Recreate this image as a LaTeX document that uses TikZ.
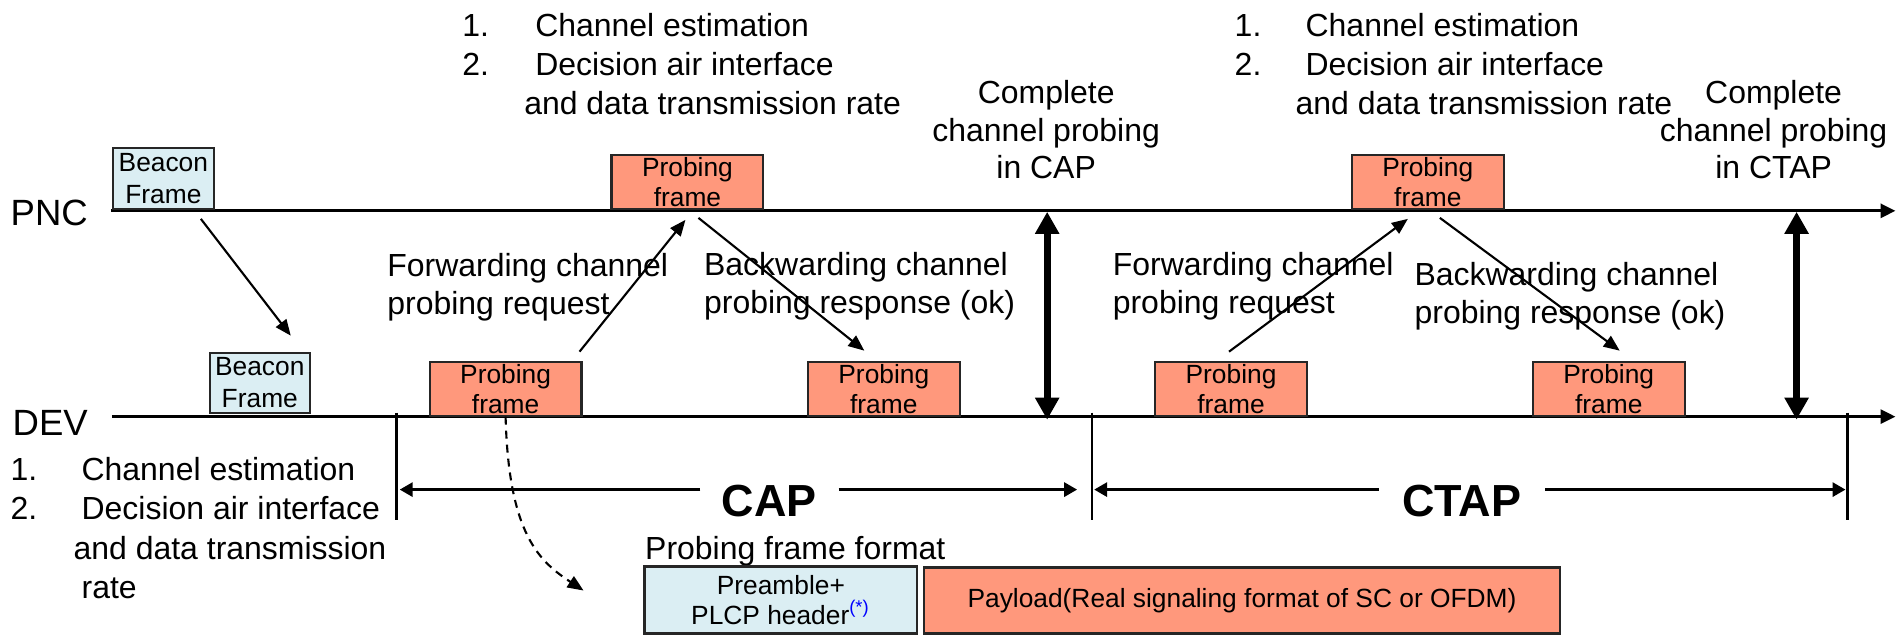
\documentclass[tikz,border=0pt]{standalone}
\usepackage{fontspec}
\setmainfont{Liberation Sans}
\usetikzlibrary{arrows.meta}
\definecolor{probefill}{RGB}{255,152,124}
\definecolor{beaconfill}{RGB}{219,238,243}
\tikzset{
  txt/.style={inner sep=0, align=left, font=\fontsize{9.1pt}{11pt}\selectfont},
  frm/.style={draw=black!85, line width=0.6pt, inner sep=0, align=center, font=\fontsize{7.5pt}{8.5pt}\selectfont},
  probe/.style={frm, fill=probefill, minimum width=1.52cm, minimum height=0.54cm},
  beacon/.style={frm, fill=beaconfill, minimum width=1.01cm, minimum height=0.61cm, font=\fontsize{7.5pt}{9.1pt}\selectfont},
  msg/.style={line width=0.6pt, -{Triangle[length=0.16cm,width=0.13cm]}},
  timeline/.style={line width=0.85pt, -{Triangle[length=0.15cm,width=0.14cm]}},
  boundary/.style={line width=0.7pt},
  spanline/.style={line width=0.85pt, -{Triangle[length=0.13cm,width=0.14cm]}},
  doneline/.style={line width=2pt, {Triangle[length=0.22cm,width=0.23cm]}-{Triangle[length=0.22cm,width=0.23cm]}},
  periodlabel/.style={inner xsep=0.21cm, inner ysep=0, font=\fontsize{12.8pt}{14pt}\selectfont\bfseries}
}
\begin{document}
\begin{tikzpicture}
\newcommand\pncy{-2.11}
\newcommand\devy{-4.17}
\fill [white] (0,0) rectangle (18.97,-6.36);

\node (pnc) at (0.10,-2.13) [anchor=west, inner sep=0, font=\fontsize{10.4pt}{12pt}\selectfont] {PNC};
\node (dev) at (0.12,-4.23) [anchor=west, inner sep=0, font=\fontsize{10.4pt}{12pt}\selectfont] {DEV};
\coordinate (pncstart) at (1.11,\pncy);
\coordinate (pncend) at (18.97,\pncy);
\coordinate (devstart) at (1.12,\devy);
\coordinate (devend) at (18.97,\devy);
\draw [timeline] (pncstart) -- (pncend);
\draw [timeline] (devstart) -- (devend);

\foreach \x in {3.97,10.93,18.49} {
    \draw [boundary] (\x,-4.13) -- (\x,-5.20);
}

\node (beaconP) at (1.635,-1.785) [beacon] {Beacon\\Frame};
\node (beaconD) at (2.60,-3.83) [beacon, minimum width=1.00cm, minimum height=0.60cm] {Beacon\\Frame};
\node (probePA) at (6.88,-1.82) [probe] {Probing\\frame};
\node (probePB) at (14.29,-1.82) [probe] {Probing\\frame};
\foreach \x/\n in {5.06/DA,8.845/DB,12.32/DC,16.10/DD} {
    \node (probe\n) at (\x,-3.89) [probe] {Probing\\frame};
}

\node (capsteps) at (4.62,-0.13) [txt, anchor=north west] {\makebox[0.73cm][l]{1.}Channel estimation\\\makebox[0.73cm][l]{2.}Decision air interface\\\hspace*{0.62cm}and data transmission rate};
\node (ctapsteps) at (12.35,-0.13) [txt, anchor=north west] {\makebox[0.71cm][l]{1.}Channel estimation\\\makebox[0.71cm][l]{2.}Decision air interface\\\hspace*{0.61cm}and data transmission rate};
\node (devsteps) at (0.10,-4.57) [txt, anchor=north west, font=\fontsize{9.1pt}{11.2pt}\selectfont] {\makebox[0.71cm][l]{1.}Channel estimation\\\makebox[0.71cm][l]{2.}Decision air interface\\\hspace*{0.63cm}and data transmission\\\hspace*{0.71cm}rate};
\node (capdone) at (10.47,-0.80) [txt, anchor=north, align=center, font=\fontsize{9.1pt}{10.7pt}\selectfont] {Complete\\channel probing\\in CAP};
\node (ctapdone) at (17.75,-0.80) [txt, anchor=north, align=center, font=\fontsize{9.1pt}{10.7pt}\selectfont] {Complete\\channel probing\\in CTAP};
\node (fwdtextA) at (3.87,-2.53) [txt, anchor=north west, font=\fontsize{9.1pt}{10.8pt}\selectfont] {Forwarding channel\\probing request};
\node (bwdtextA) at (7.04,-2.52) [txt, anchor=north west, font=\fontsize{9.1pt}{10.8pt}\selectfont] {Backwarding channel\\probing response (ok)};
\node (fwdtextB) at (11.13,-2.52) [txt, anchor=north west, font=\fontsize{9.1pt}{10.8pt}\selectfont] {Forwarding channel\\probing request};
\node (bwdtextB) at (14.15,-2.62) [txt, anchor=north west, font=\fontsize{9.1pt}{10.8pt}\selectfont] {Backwarding channel\\probing response (ok)};

\draw [msg] ([shift={(0.375,-0.09)}]beaconP.south) -- ([shift={(0.31,0.16)}]beaconD.north);
\draw [msg] ([shift={(0.74,0.09)}]probeDA.north) -- ([shift={(-0.02,-0.10)}]probePA.south);
\draw [msg] ([shift={(0.11,-0.08)}]probePA.south) -- ([shift={(-0.195,0.10)}]probeDB.north);
\draw [msg] ([shift={(-0.02,0.09)}]probeDC.north) -- ([shift={(-0.20,-0.09)}]probePB.south);
\draw [msg] ([shift={(0.12,-0.08)}]probePB.south) -- ([shift={(0.11,0.10)}]probeDD.north);

\coordinate (capdoneP) at (10.48,-2.12);
\coordinate (capdoneD) at (10.48,-4.20);
\coordinate (ctapdoneP) at (17.98,-2.12);
\coordinate (ctapdoneD) at (17.98,-4.20);
\draw [doneline] (capdoneP) -- (capdoneD);
\draw [doneline] (ctapdoneP) -- (ctapdoneD);

\node (captext) at (7.70,-5.01) [periodlabel] {CAP};
\node (ctaptext) at (14.63,-5.01) [periodlabel, inner xsep=0.23cm] {CTAP};
\coordinate (capL) at (4.00,-4.90);
\coordinate (capR) at (10.78,-4.90);
\coordinate (ctapL) at (10.95,-4.90);
\coordinate (ctapR) at (18.47,-4.90);
\draw [spanline] (captext.west |- capL) -- (capL);
\draw [spanline] (captext.east |- capR) -- (capR);
\draw [spanline] (ctaptext.west |- ctapL) -- (ctapL);
\draw [spanline] (ctaptext.east |- ctapR) -- (ctapR);

\node (fmttitle) at (6.45,-5.36) [txt, anchor=north west] {Probing frame format};
\node (preamble) at (7.815,-6.005) [frm, fill=beaconfill, minimum width=2.73cm, minimum height=0.67cm] {Preamble+\\PLCP header\textsuperscript{\smash{\color{blue}(*)}}};
\node (payload) at (12.43,-6.01) [frm, fill=probefill, minimum width=6.36cm, minimum height=0.66cm] {Payload(Real signaling format of SC or OFDM)};
\coordinate (fmttip) at (5.84,-5.91);
\draw [msg, dash pattern=on 0.08cm off 0.06cm] (probeDA.south) .. controls (5.09,-5.35) and (5.40,-5.62) .. (fmttip);
\end{tikzpicture}
\end{document}
